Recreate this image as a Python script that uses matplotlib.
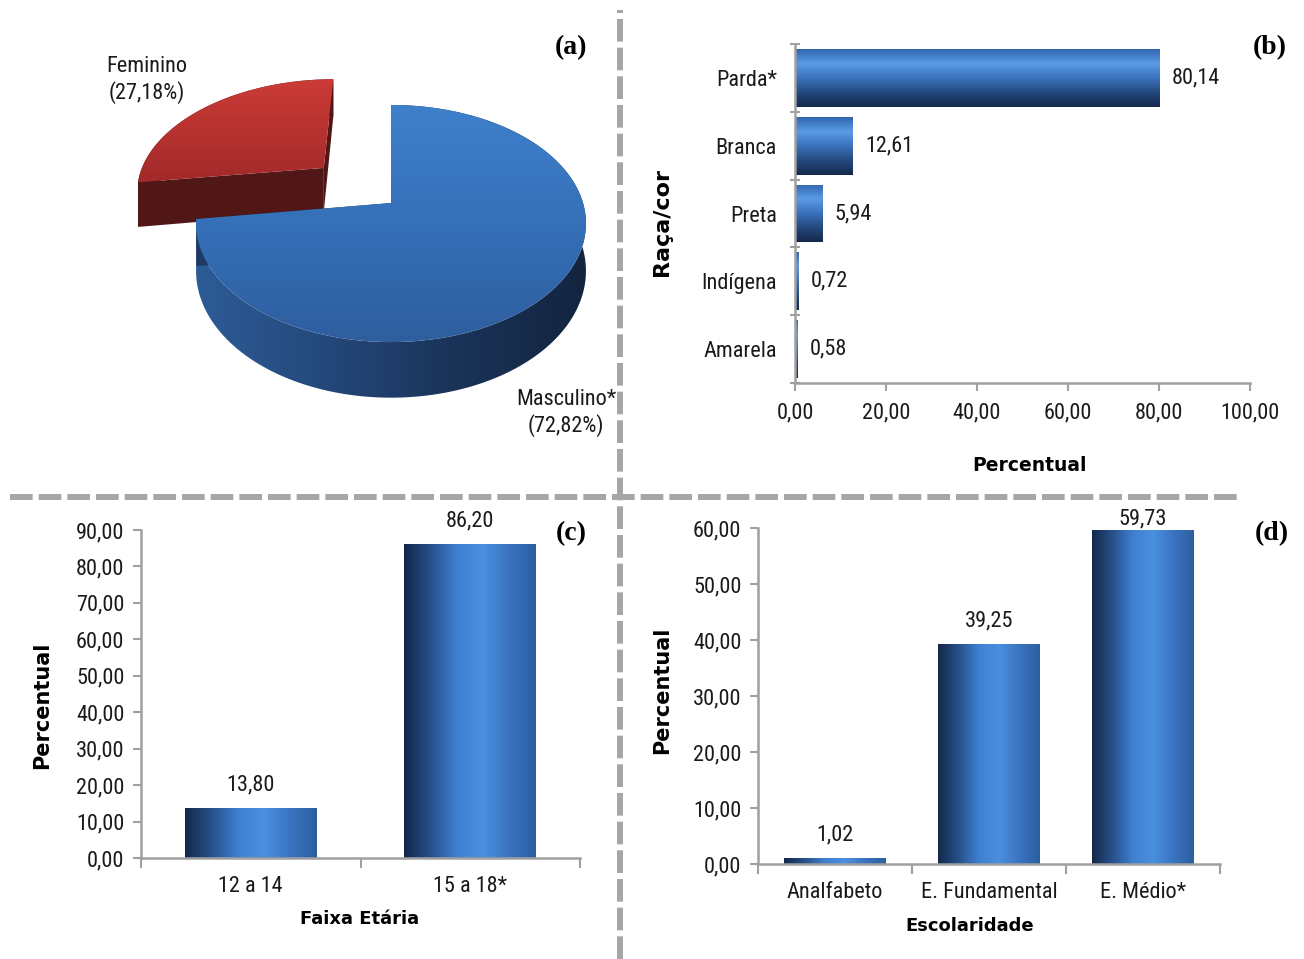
import numpy as np
import matplotlib
matplotlib.use("Agg")
import matplotlib.pyplot as plt
from matplotlib import font_manager as fm
from matplotlib.patches import Polygon
from matplotlib.lines import Line2D
from matplotlib.colors import LinearSegmentedColormap
from matplotlib.ticker import FuncFormatter, FixedLocator

# ---------------- dados ----------------
sexo = ["Masculino*", "Feminino"]
sexo_pct = [72.82, 27.18]
sexo_explode = [0.0, 0.49]

raca = ["Parda*", "Branca", "Preta", "Indígena", "Amarela"]
raca_pct = [80.14, 12.61, 5.94, 0.72, 0.58]

idade = ["12 a 14", "15 a 18*"]
idade_pct = [13.80, 86.20]

escol = ["Analfabeto", "E. Fundamental", "E. Médio*"]
escol_pct = [1.02, 39.25, 59.73]

W, H = 1304, 959

# fonte "estreita" parecida com a Tahoma do Excel
_names = {f.name for f in fm.fontManager.ttflist}
_narrow = next((n for n in ["Liberation Sans Narrow", "Roboto Condensed"] if n in _names), None)
if _narrow:
    NARROW, FS = [_narrow, "DejaVu Sans"], 16
else:
    NARROW, FS = ["Liberation Sans", "DejaVu Sans"], 14
BOLD = ["DejaVu Sans"]
SERIF = ["Liberation Serif", "DejaVu Serif"]
AXIS_GRAY = "#A0A0A0"
TXT = "#1a1a1a"

# gradientes estilo Excel
BAR_V = ["#14284a", "#27508a", "#3f7fd0", "#4a8fe0", "#3a74c0", "#2c5fa0"]
BAR_H = ["#3066ae", "#5b9be6", "#3a72bc", "#24497e", "#15294a"]


def fmt(v):
    return f"{v:.2f}".replace(".", ",")


def ramp(stops, n=256):
    cmap = LinearSegmentedColormap.from_list("g", stops)
    return cmap(np.linspace(0, 1, n))[:, :3]


def fill_gradient(ax, patch, stops, extent, horizontal=True, zorder=2):
    cols = ramp(stops)
    img = cols[None, :, :] if horizontal else cols[:, None, :]
    im = ax.imshow(img, extent=extent, aspect="auto", interpolation="bilinear",
                   zorder=zorder)
    im.set_clip_path(patch)
    return im


def style_axes(ax):
    for s in ("top", "right"):
        ax.spines[s].set_visible(False)
    for s in ("left", "bottom"):
        ax.spines[s].set_color(AXIS_GRAY)
        ax.spines[s].set_linewidth(1.8)
    ax.tick_params(which="both", color=AXIS_GRAY, width=1.5, labelcolor=TXT,
                   labelsize=FS)
    for lab in ax.get_xticklabels() + ax.get_yticklabels():
        lab.set_family(NARROW)


fig = plt.figure(figsize=(W / 100, H / 100), dpi=100)

# ============================================================
#  (a) pizza 3D
# ============================================================
ax_a = fig.add_axes([0, 1 - 495 / H, 620 / W, 495 / H])
CX, CY, RX, RY, PERSP, DEPTH = 391.0, 203.0, 192.0, 115.0, 0.173, 46.0


def proj(X, Y, z=0.0):
    f = 1.0 / (1.0 + PERSP * Y)
    return CX + RX * X * f, CY - RY * Y * f + DEPTH * z * f


slice_styles = [
    dict(top=["#3f80cc", "#3570b8", "#2e5e9e"],
         wall=["#2d5c97", "#24487a", "#1a3358", "#13253f"], side="#1e3a63"),
    dict(top=["#cc3c37", "#b83230", "#a22a2a"],
         wall=["#5a1818", "#4a1414"], side="#511616"),
]

total = sum(sexo_pct)
start = 90.0
slices = []
for name, pct, ex, st in zip(sexo, sexo_pct, sexo_explode, slice_styles):
    span = 360.0 * pct / total
    a0, a1 = start, start - span
    start = a1
    mid = np.radians((a0 + a1) / 2)
    ox, oy = ex * np.cos(mid), ex * np.sin(mid)
    th = np.radians(np.linspace(a0, a1, 300))
    X, Y = ox + np.cos(th), oy + np.sin(th)
    slices.append((X, Y, ox, oy, st))

# fatia de tras (vermelha) primeiro
for X, Y, ox, oy, st in slices[::-1]:
    tx, ty = proj(X, Y, 0)
    bx, by = proj(X, Y, 1)
    cxt, cyt = proj(ox, oy, 0)
    cxb, cyb = proj(ox, oy, 1)
    # parede externa
    wall = np.column_stack([np.r_[tx, bx[::-1]], np.r_[ty, by[::-1]]])
    pw = Polygon(wall, closed=True, facecolor="none", edgecolor="none", zorder=2)
    ax_a.add_patch(pw)
    fill_gradient(ax_a, pw, st["wall"],
                  [wall[:, 0].min(), wall[:, 0].max(), wall[:, 1].max(), wall[:, 1].min()],
                  horizontal=True, zorder=2)
    # faces radiais
    for k in (0, -1):
        face = [(cxt, cyt), (tx[k], ty[k]), (bx[k], by[k]), (cxb, cyb)]
        ax_a.add_patch(Polygon(face, closed=True, facecolor=st["side"],
                               edgecolor="none", zorder=2))
    # topo
    top = np.column_stack([np.r_[cxt, tx], np.r_[cyt, ty]])
    pt = Polygon(top, closed=True, facecolor="none", edgecolor="none", zorder=3)
    ax_a.add_patch(pt)
    fill_gradient(ax_a, pt, st["top"],
                  [top[:, 0].min(), top[:, 0].max(), top[:, 1].max(), top[:, 1].min()],
                  horizontal=False, zorder=3)

pie_label_pos = [(566, 413), (147, 80)]
for name, pct, (lx, ly) in zip(sexo, sexo_pct, pie_label_pos):
    ax_a.text(lx, ly, f"{name}\n({fmt(pct)}%)", ha="center", va="center",
              fontsize=FS, family=NARROW, color=TXT, linespacing=1.25, zorder=5)

ax_a.set_xlim(0, 620)
ax_a.set_ylim(495, 0)
ax_a.axis("off")

# ============================================================
#  (b) raca/cor
# ============================================================
ax_b = fig.add_axes([795 / W, 1 - 383 / H, 455 / W, 339 / H])
ypos = np.arange(len(raca))[::-1]
bars = ax_b.barh(ypos, raca_pct, height=0.85, color="none", edgecolor="none")
for r in bars:
    x, y, w, h = r.get_x(), r.get_y(), r.get_width(), r.get_height()
    fill_gradient(ax_b, r, BAR_H, [x, x + w, y, y + h], horizontal=False)
for y, v in zip(ypos, raca_pct):
    ax_b.annotate(fmt(v), (v, y), xytext=(9, 0), textcoords="offset points",
                  ha="left", va="center", fontsize=FS, family=NARROW, color=TXT)
ax_b.set_xlim(0, 100)
ax_b.set_ylim(-0.5, len(raca) - 0.5)
ax_b.set_xticks(np.arange(0, 101, 20))
ax_b.xaxis.set_major_formatter(FuncFormatter(lambda v, p: fmt(v)))
ax_b.set_yticks(ypos)
ax_b.set_yticklabels(raca)
ax_b.yaxis.set_minor_locator(FixedLocator(np.arange(-0.5, len(raca), 1.0)))
style_axes(ax_b)
ax_b.tick_params(axis="y", which="major", length=0, pad=13)
ax_b.tick_params(axis="y", which="minor", length=7, direction="inout")
ax_b.tick_params(axis="x", which="major", length=6, direction="out", pad=8)
ax_b.set_xlabel("Percentual", fontsize=13.5, fontweight="bold", family=BOLD)
ax_b.xaxis.set_label_coords(0.516, -0.242)
ax_b.xaxis.label.set_va("center")
ax_b.set_ylabel("Raça/cor", fontsize=16, fontweight="bold", family=BOLD)
ax_b.yaxis.set_label_coords(-0.292, 0.475)
ax_b.yaxis.label.set_va("center")


# ============================================================
#  (c) faixa etaria / (d) escolaridade
# ============================================================
def vbar_panel(ax, cats, vals, ymax, step, width):
    xpos = np.arange(len(cats))
    bars = ax.bar(xpos, vals, width=width, color="none", edgecolor="none")
    for r in bars:
        x, y, w, h = r.get_x(), r.get_y(), r.get_width(), r.get_height()
        fill_gradient(ax, r, BAR_V, [x, x + w, y, y + h], horizontal=True)
    for x, v in zip(xpos, vals):
        # rotulo empurrado para dentro quando encosta no topo do grafico
        off = 9 if v < 0.98 * ymax else 0
        ax.annotate(fmt(v), (x, v), xytext=(0, off), textcoords="offset points",
                    ha="center", va="bottom", fontsize=FS, family=NARROW, color=TXT)
    ax.set_xlim(-0.5, len(cats) - 0.5)
    ax.set_ylim(0, ymax)
    ax.set_yticks(np.arange(0, ymax + 0.1, step))
    ax.yaxis.set_major_formatter(FuncFormatter(lambda v, p: fmt(v)))
    ax.set_xticks(xpos)
    ax.set_xticklabels(cats)
    ax.xaxis.set_minor_locator(FixedLocator(np.arange(-0.5, len(cats), 1.0)))
    style_axes(ax)
    ax.tick_params(axis="x", which="major", length=0, pad=13)
    ax.tick_params(axis="x", which="minor", length=7, direction="out")
    ax.tick_params(axis="y", which="major", length=6, direction="out", pad=6)


ax_c = fig.add_axes([141 / W, 1 - 858 / H, 439 / W, 328 / H])
vbar_panel(ax_c, idade, idade_pct, 90, 10, 0.6)
ax_c.set_xlabel("Faixa Etária", fontsize=13, fontweight="bold", family=BOLD)
ax_c.xaxis.set_label_coords(0.499, -0.186)
ax_c.xaxis.label.set_va("center")
ax_c.set_ylabel("Percentual", fontsize=15, fontweight="bold", family=BOLD)
ax_c.yaxis.set_label_coords(-0.2255, 0.466)
ax_c.yaxis.label.set_va("center")

ax_d = fig.add_axes([758 / W, 1 - 864 / H, 462 / W, 336 / H])
vbar_panel(ax_d, escol, escol_pct, 60, 10, 0.66)
ax_d.set_xlabel("Escolaridade", fontsize=13, fontweight="bold", family=BOLD)
ax_d.xaxis.set_label_coords(0.459, -0.185)
ax_d.xaxis.label.set_va("center")
ax_d.set_ylabel("Percentual", fontsize=15, fontweight="bold", family=BOLD)
ax_d.yaxis.set_label_coords(-0.208, 0.518)
ax_d.yaxis.label.set_va("center")

# ============================================================
#  separadores e letras
# ============================================================
dash = (0, (3.8, 1.0))
fig.add_artist(Line2D([620 / W, 620 / W], [0, 1 - 10 / H], transform=fig.transFigure,
                      color="#A6A6A6", lw=4.3, linestyle=dash))
fig.add_artist(Line2D([10 / W, 1240 / W], [1 - 497 / H, 1 - 497 / H],
                      transform=fig.transFigure, color="#A6A6A6", lw=4.3, linestyle=dash))

for lab, (px, py) in zip(["(a)", "(b)", "(c)", "(d)"],
                         [(571, 48), (1270, 48), (571, 534), (1272, 534)]):
    fig.text(px / W, 1 - py / H, lab, ha="center", va="center", fontsize=20,
             fontweight="bold", family=SERIF, color="#000000")

fig.savefig("out.png", dpi=100)
